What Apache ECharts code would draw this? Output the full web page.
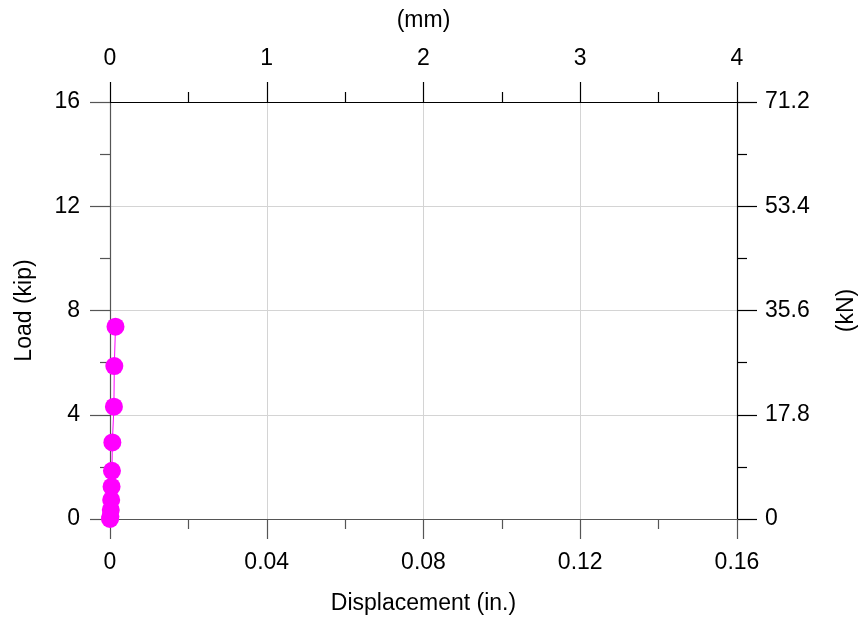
<!DOCTYPE html>
<html>
<head>
<meta charset="utf-8">
<script src="https://cdn.jsdelivr.net/npm/echarts@6/dist/echarts.min.js"></script>
<style>
  html, body { margin: 0; padding: 0; background: #fff; }
  #chart { width: 862px; height: 622px; }
</style>
</head>
<body>
<div id="chart"></div>
<script>
// load-displacement readings (in., kip)
const displacement = [0, 0.0001, 0.0002, 0.0003, 0.0004, 0.0005, 0.0006, 0.001, 0.0011, 0.0014]
const load = [0, 0.09, 0.35, 0.73, 1.24, 1.85, 2.94, 4.31, 5.87, 7.38]

const font = 'Liberation Sans, Arial, sans-serif'
const labelStyle = { color: '#000', fontSize: 23, fontFamily: font }
const nameStyle = { color: '#000', fontSize: 23, fontFamily: font }

function axisBase(lineColor) {
  return {
    axisLine: { show: true, onZero: false, lineStyle: { color: lineColor, width: 1.2 } },
    axisTick: { show: true, inside: false, length: 20, lineStyle: { color: lineColor, width: 1.2 } },
    minorTick: { show: true, splitNumber: 2, length: 10, lineStyle: { color: lineColor, width: 1.2 } },
    minorSplitLine: { show: false },
    nameTextStyle: nameStyle
  }
}

const fmt = (d) => (v) => String(+v.toFixed(d))

const chart = echarts.init(document.getElementById('chart'))

chart.setOption({
  backgroundColor: '#fff',
  animation: false,
  grid: { left: 110, top: 102, width: 627, height: 417, containLabel: false, outerBoundsMode: 'none' },
  xAxis: [
    {
      ...axisBase('#555'),
      type: 'value',
      position: 'bottom',
      min: 0,
      max: 0.16,
      interval: 0.04,
      name: 'Displacement (in.)',
      nameLocation: 'middle',
      nameGap: 73,
      axisLabel: { ...labelStyle, margin: 32, formatter: fmt(2) },
      splitLine: { show: true, lineStyle: { color: '#d4d4d4', width: 1 } }
    },
    {
      ...axisBase('#000'),
      type: 'value',
      position: 'top',
      min: 0,
      max: 4,
      interval: 1,
      name: '(mm)',
      nameLocation: 'middle',
      nameGap: 70,
      axisLabel: { ...labelStyle, margin: 32 },
      splitLine: { show: false }
    }
  ],
  yAxis: [
    {
      ...axisBase('#555'),
      type: 'value',
      position: 'left',
      min: 0,
      max: 16,
      interval: 4,
      name: 'Load (kip)',
      nameLocation: 'middle',
      nameRotate: 90,
      nameGap: 74,
      axisLabel: { ...labelStyle, margin: 30 },
      splitLine: { show: true, lineStyle: { color: '#d4d4d4', width: 1 } }
    },
    {
      ...axisBase('#000'),
      type: 'value',
      position: 'right',
      min: 0,
      max: 71.2,
      interval: 17.8,
      name: '(kN)',
      nameLocation: 'middle',
      nameRotate: 90,
      nameGap: 98,
      axisLabel: { ...labelStyle, margin: 28, formatter: fmt(1) },
      splitLine: { show: false }
    }
  ],
  series: [
    {
      type: 'line',
      xAxisIndex: 0,
      yAxisIndex: 0,
      data: displacement.map((d, i) => [d, load[i]]),
      symbol: 'circle',
      symbolSize: 18,
      showAllSymbol: true,
      lineStyle: { color: '#ff00ff', width: 1 },
      itemStyle: { color: '#ff00ff' },
      z: 5
    }
  ]
})
</script>
</body>
</html>
